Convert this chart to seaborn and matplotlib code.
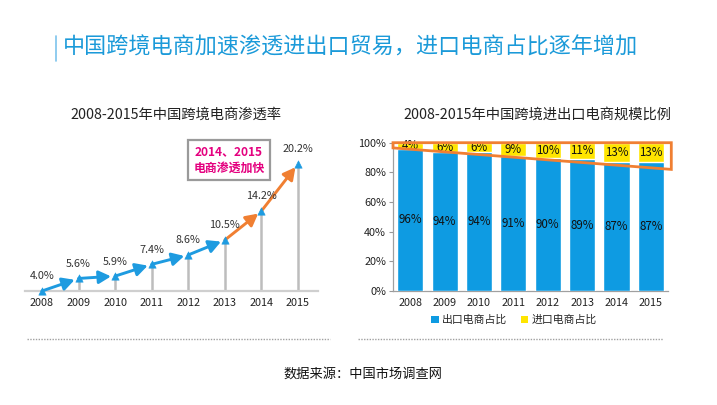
import numpy as np
import pandas as pd
import matplotlib
matplotlib.use("Agg")
import matplotlib.pyplot as plt
from matplotlib.lines import Line2D
from matplotlib.patches import Polygon, Patch
import seaborn as sns

# ---------------- data ----------------
years = ["2008", "2009", "2010", "2011", "2012", "2013", "2014", "2015"]
penetration = [4.0, 5.6, 5.9, 7.4, 8.6, 10.5, 14.2, 20.2]
export_share = [96, 94, 94, 91, 90, 89, 87, 87]
import_share = [4, 6, 6, 9, 10, 11, 13, 13]
yticks_pct = [0, 20, 40, 60, 80, 100]

title_main = "中国跨境电商加速渗透进出口贸易，进口电商占比逐年增加"
title_left = "2008-2015年中国跨境电商渗透率"
title_right = "2008-2015年中国跨境进出口电商规模比例"
note_text = "2014、2015\n电商渗透加快"
legend_labels = ["出口电商占比", "进口电商占比"]
source_text = "数据来源：中国市场调查网"

BLUE = "#1E9BE0"
ORANGE = "#F07F32"
BAR_BLUE = "#0E9BE2"
BAR_YELLOW = "#FFE500"
MAGENTA = "#E4007F"

sns.set_theme(style="white")
plt.rcParams["font.family"] = ["Noto Sans CJK SC", "DejaVu Sans"]

W, H = 717, 405
fig = plt.figure(figsize=(W / 100, H / 100), dpi=100)
fig.patch.set_facecolor("white")

def fx(px):
    return px / W

def fy(py):
    return 1 - py / H

# ---------------- header ----------------
fig.add_artist(Line2D([fx(56), fx(56)], [fy(36), fy(61)], color="#7DC3EC", lw=1.2))
fig.text(fx(63), fy(48), title_main, fontsize=15.9, color="#1B9AD9",
         ha="left", va="center")

# ---------------- left chart ----------------
ax1 = fig.add_axes([fx(25), fy(291), fx(318) - fx(25), (291 - 150) / H])
x_idx = np.arange(len(years))
df_pen = pd.DataFrame({"x": x_idx, "v": penetration})

ax1.vlines(x_idx, penetration[0], penetration, color="#BDBDBD", lw=1.8, zorder=1)
for i in range(len(years) - 1):
    col = BLUE if i < 5 else ORANGE
    ax1.annotate("", xy=(i + 1, penetration[i + 1]), xytext=(i, penetration[i]),
                 arrowprops=dict(arrowstyle="-|>,head_length=0.6,head_width=0.32",
                                 color=col, lw=2.1, shrinkA=0, shrinkB=3),
                 zorder=3, annotation_clip=False)
sns.scatterplot(data=df_pen, x="x", y="v", marker="^", color=BLUE, s=28,
                edgecolor=BLUE, ax=ax1, zorder=4, clip_on=False, legend=False)
for i, v in enumerate(penetration):
    ax1.annotate(f"{v:.1f}%", (i, v), xytext=(0, 10.5), textcoords="offset points",
                 ha="center", va="center", fontsize=7.8, color="#333333")

ax1.set_xlim(-0.465, 7.547)
ax1.set_ylim(4.0, 21.98)
ax1.set_xticks(x_idx)
ax1.set_xticklabels(years, fontsize=7.8, color="#222222")
ax1.set_yticks([])
ax1.tick_params(axis="x", length=0, pad=5)
ax1.set_xlabel("")
ax1.set_ylabel("")
for s in ["top", "right", "left"]:
    ax1.spines[s].set_visible(False)
ax1.spines["bottom"].set_color("#CFCFCF")
ax1.spines["bottom"].set_linewidth(1.6)
ax1.patch.set_alpha(0)

fig.text(fx(176), fy(115), title_left, fontsize=10.3, color="#222222",
         ha="center", va="center")
fig.text(fx(229), fy(160), note_text, fontsize=8.6, color=MAGENTA, fontweight="bold",
         ha="center", va="center", linespacing=1.35,
         bbox=dict(boxstyle="square,pad=0.45", facecolor="white",
                   edgecolor="#9A9A9A", lw=1.6))

# ---------------- right chart ----------------
ax2 = fig.add_axes([fx(393), fy(291), 275 / W, 148.3 / H])
df_share = pd.DataFrame({"year": years, "export": export_share,
                         "total": [e + i for e, i in zip(export_share, import_share)]})
sns.barplot(data=df_share, x="year", y="total", color=BAR_YELLOW, width=0.76,
            saturation=1, ax=ax2, zorder=2)
sns.barplot(data=df_share, x="year", y="export", color=BAR_BLUE, width=0.76,
            saturation=1, ax=ax2, zorder=3)
for i, (e, im) in enumerate(zip(export_share, import_share)):
    ax2.text(i, e / 2, f"{e}%", ha="center", va="center", fontsize=8.3,
             color="#111111", zorder=5)
    ax2.text(i, e + im / 2, f"{im}%", ha="center", va="center", fontsize=8.3,
             color="#111111", zorder=5)

ax2.set_ylim(0, 100)
ax2.set_xlim(-0.5, 7.5)
ax2.set_yticks(yticks_pct)
ax2.set_yticklabels([f"{t}%" for t in yticks_pct], fontsize=7.8, color="#222222")
ax2.set_xticklabels(years, fontsize=7.8, color="#222222")
ax2.tick_params(axis="y", length=3, width=0.8, color="#999999", pad=2, left=True)
ax2.tick_params(axis="x", length=0, pad=5)
ax2.set_xlabel("")
ax2.set_ylabel("")
for s in ["top", "right"]:
    ax2.spines[s].set_visible(False)
for s in ["left", "bottom"]:
    ax2.spines[s].set_color("#A0A0A0")
    ax2.spines[s].set_linewidth(0.9)
ax2.grid(False)
ax2.patch.set_alpha(0)

poly = Polygon([(0, 1.0), (1.012, 1.0), (1.012, 0.82), (0, 0.965)], closed=True,
               transform=ax2.transAxes, fill=False, edgecolor=ORANGE, lw=2.0,
               clip_on=False, zorder=6)
ax2.add_patch(poly)

fig.text(fx(537), fy(115), title_right, fontsize=10.3, color="#222222",
         ha="center", va="center")

handles = [Patch(facecolor=BAR_BLUE, edgecolor="none"),
           Patch(facecolor=BAR_YELLOW, edgecolor="none")]
fig.legend(handles, legend_labels, loc="center", bbox_to_anchor=(fx(514), fy(320)),
           ncol=2, frameon=False, fontsize=7.8, handlelength=0.7, handleheight=0.7,
           handletextpad=0.3, columnspacing=1.2)

# ---------------- footer ----------------
for x0, x1 in [(27, 330), (358, 663)]:
    fig.add_artist(Line2D([fx(x0), fx(x1)], [fy(339), fy(339)], color="#A0A0A0",
                          lw=1.0, linestyle=(0, (1, 1))))
fig.text(fx(363), fy(374), source_text, fontsize=9.5, color="#111111",
         ha="center", va="center")

fig.savefig("out.png", dpi=100, facecolor="white")
